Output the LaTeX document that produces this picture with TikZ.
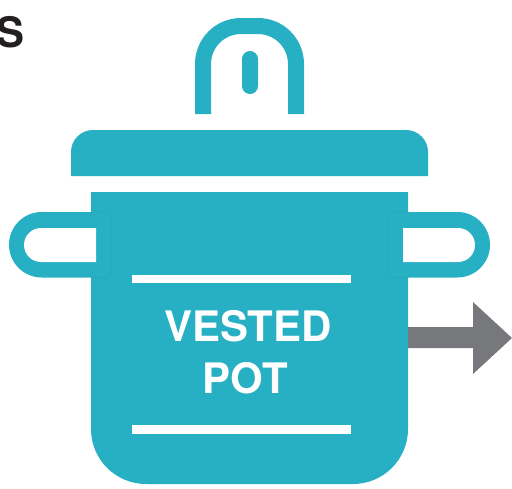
\documentclass[tikz,border=0pt]{standalone}
\usepackage{fontspec}
\setmainfont{TeX Gyre Heros}
\definecolor{potteal}{HTML}{27AFC4}
\definecolor{arrowgrey}{HTML}{77787B}
\definecolor{inktext}{HTML}{231F20}
\definecolor{seam}{HTML}{2AA3B8}
\tikzset{
  pot/.style={fill=potteal,draw=none},
  seamline/.style={draw=seam,line width=0.5pt},
  potlabel/.style={text=white,font=\bfseries\fontsize{42}{42}\selectfont,inner sep=0pt,anchor=center},
  knobline/.style={draw=potteal,line width=16pt,line cap=butt},
}
\begin{document}
\begin{tikzpicture}[x=1pt,y=-1pt]
\useasboundingbox (0,0) rectangle (512,488);
\begin{scope}
\clip (0,0) rectangle (512,488);
\node[text=inktext,font=\bfseries\fontsize{42}{42}\selectfont,inner sep=0pt,anchor=base east] (cut) at (24.5,47) {S};
\end{scope}
% knob
\draw[knobline,rounded corners=38pt] (203,114) -- (203,26) -- (296,26) -- (296,114);
\fill[pot,rounded corners=7.9pt] (242,51) rectangle (258,94);
% lid
\fill[pot] (71,176) [rounded corners=22pt] -- (71,130) -- (428,130) [sharp corners] -- (428,176) -- cycle;
% handle outers
\fill[pot] [rounded corners=32.7pt] (140,212) -- (9,212) -- (9,277.5) -- (140,277.5) -- cycle;
\fill[pot] [rounded corners=32.7pt] (360,212) -- (490,212) -- (490,277.5) -- (360,277.5) -- cycle;
% body
\fill[pot] (91,192) -- (408,192) [rounded corners=55pt] -- (408,484) -- (91,484) [sharp corners] -- cycle;
% handle windows
\fill[white] (96,228) [rounded corners=17pt] -- (24,228) -- (24,262) [sharp corners] -- (96,262) -- cycle;
\fill[white] (403,228) [rounded corners=17pt] -- (475,228) -- (475,262) [sharp corners] -- (403,262) -- cycle;
% seams
\draw[seamline,rounded corners=3pt] (91,212) -- (111,212) -- (111,277.5) -- (91,277.5);
\draw[seamline,rounded corners=3pt] (408,212) -- (387,212) -- (387,277.5) -- (408,277.5);
% white rules
\fill[white] (132,275) rectangle (351,283);
\fill[white] (132,425) rectangle (351,434);
\node[potlabel] (l1) at (248,326) {VESTED};
\node[potlabel] (l2) at (245.5,378) {POT};
% arrow
\fill[arrowgrey] (408,327) -- (473,327) -- (473,302) -- (512,338) -- (473,374) -- (473,348) -- (408,348) -- cycle;
\end{tikzpicture}
\end{document}
